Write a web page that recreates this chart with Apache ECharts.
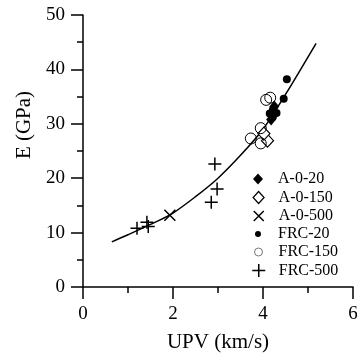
<!DOCTYPE html>
<html>
<head>
<meta charset="utf-8">
<script src="https://cdn.jsdelivr.net/npm/echarts@6/dist/echarts.min.js"></script>
<style>
html,body{margin:0;padding:0;background:#fff;}
#c{width:357px;height:354px;}
</style>
</head>
<body>
<div id="c"></div>
<script>
// ---- data ----
const xTicks = [0, 2, 4, 6];
const yTicks = [0, 10, 20, 30, 40, 50];
const seriesNames = ['A-0-20', 'A-0-150', 'A-0-500', 'FRC-20', 'FRC-150', 'FRC-500'];

const a0_20 = [[4.18, 30.8], [4.25, 33.2]];
const a0_150 = [[4.10, 26.9], [4.02, 28.2]];
const a0_500 = [[1.93, 13.2]];
const frc20 = [[4.53, 38.2], [4.46, 34.6], [4.22, 32.6], [4.15, 31.9], [4.30, 32.0], [4.22, 31.3]];
const frc150 = [[4.07, 34.4], [4.16, 34.8], [3.73, 27.3], [3.95, 29.2], [3.95, 26.4]];
const frc500 = [[1.20, 10.8], [1.42, 11.9], [1.45, 11.1], [2.85, 15.6], [2.98, 18.0], [2.93, 22.6]];

// fitted curve, points
const fitCurve = [[0.64, 8.3], [1.0, 9.6], [1.5, 11.5], [2.0, 13.6], [2.5, 16.6], [3.0, 20.0],
                  [3.5, 24.2], [4.0, 29.0], [4.5, 35.4], [5.18, 44.8]];

// ---- chart ----
const FONT = 'Liberation Serif';
const X_PATH = 'path://M0,0L10,10M10,0L0,10';
const PLUS_PATH = 'path://M5,0L5,10M0,5L10,5';

const symbolDefs = {
  'A-0-20':  {symbol: 'diamond', size: [10, 12], item: {color: '#000', borderWidth: 0}, legendW: 10, legendH: 11},
  'A-0-150': {symbol: 'diamond', size: [12, 13], item: {color: '#fff', borderColor: '#000', borderWidth: 1.2}, legendW: 11, legendH: 12},
  'A-0-500': {symbol: X_PATH, size: 11, item: {color: 'rgba(0,0,0,0)', borderColor: '#000', borderWidth: 1.5}, legendW: 10, legendH: 10},
  'FRC-20':  {symbol: 'circle', size: 8, item: {color: '#000', borderWidth: 0}, legendW: 6, legendH: 6},
  'FRC-150': {symbol: 'circle', size: 11, item: {color: 'rgba(0,0,0,0)', borderColor: '#000', borderWidth: 1}, legendW: 8, legendH: 8},
  'FRC-500': {symbol: PLUS_PATH, size: 13, item: {color: 'rgba(0,0,0,0)', borderColor: '#000', borderWidth: 1.5}, legendW: 13, legendH: 13}
};
const dataByName = {
  'A-0-20': a0_20, 'A-0-150': a0_150, 'A-0-500': a0_500,
  'FRC-20': frc20, 'FRC-150': frc150, 'FRC-500': frc500
};

const legendRowY = [179, 197.5, 216, 234, 252, 270.5];
const legendIconX = 258;
const legendTextX = 278;
const legends = seriesNames.map((n, i) => {
  const d = symbolDefs[n];
  const it = Object.assign({}, d.item);
  if (n === 'FRC-150') it.borderColor = '#777';
  const w = d.legendW;
  const padL = legendTextX - (legendIconX + w / 2 + 5);
  return {
    data: [{name: n, itemStyle: it}],
    orient: 'vertical',
    left: legendIconX - w / 2,
    top: legendRowY[i] - 9,
    padding: 0,
    itemWidth: w,
    itemHeight: d.legendH,
    symbolKeepAspect: false,
    selectedMode: false,
    textStyle: {fontFamily: FONT, fontSize: 16, color: '#000', lineHeight: 18, padding: [0, 0, 0, padL]}
  };
});

const scatterSeries = seriesNames.map(n => {
  const d = symbolDefs[n];
  return {
    name: n,
    type: 'scatter',
    data: dataByName[n],
    symbol: d.symbol,
    symbolSize: d.size,
    itemStyle: Object.assign({opacity: 1}, d.item),
    emphasis: {disabled: true},
    z: 3
  };
});

const option = {
  animation: false,
  backgroundColor: '#fff',
  textStyle: {fontFamily: FONT, color: '#000'},
  grid: {left: 83, right: 4, top: 15, bottom: 67, containLabel: false, outerBoundsMode: 'none'},
  legend: legends,
  xAxis: {
    type: 'value',
    min: xTicks[0], max: xTicks[xTicks.length - 1], interval: 2,
    name: 'UPV (km/s)',
    nameLocation: 'middle',
    nameGap: 45,
    nameTextStyle: {fontFamily: FONT, fontSize: 21, color: '#000'},
    axisLine: {show: true, onZero: false, lineStyle: {color: '#000', width: 1.5}},
    axisTick: {show: true, inside: false, length: 12, lineStyle: {color: '#000', width: 1.5}},
    minorTick: {show: true, splitNumber: 2, length: 6, lineStyle: {color: '#000', width: 1.5}},
    splitLine: {show: false},
    axisLabel: {margin: 18, fontFamily: FONT, fontSize: 19, color: '#000'}
  },
  yAxis: {
    type: 'value',
    min: yTicks[0], max: yTicks[yTicks.length - 1], interval: 10,
    name: 'E (GPa)',
    nameLocation: 'middle',
    nameGap: 48,
    nameTextStyle: {fontFamily: FONT, fontSize: 21, color: '#000', padding: [0, 0, 0, 52]},
    axisLine: {show: true, onZero: false, lineStyle: {color: '#000', width: 1.5}},
    axisTick: {show: true, inside: false, length: 12, lineStyle: {color: '#000', width: 1.5}},
    minorTick: {show: true, splitNumber: 2, length: 6, lineStyle: {color: '#000', width: 1.5}},
    splitLine: {show: false},
    axisLabel: {margin: 18, fontFamily: FONT, fontSize: 19, color: '#000'}
  },
  series: [
    {
      name: 'fit',
      type: 'line',
      data: fitCurve,
      smooth: 0.3,
      showSymbol: false,
      symbol: 'none',
      lineStyle: {color: '#000', width: 1.5},
      emphasis: {disabled: true},
      z: 2
    }
  ].concat(scatterSeries)
};

const chart = echarts.init(document.getElementById('c'), null, {renderer: 'canvas'});
chart.setOption(option);
</script>
</body>
</html>
